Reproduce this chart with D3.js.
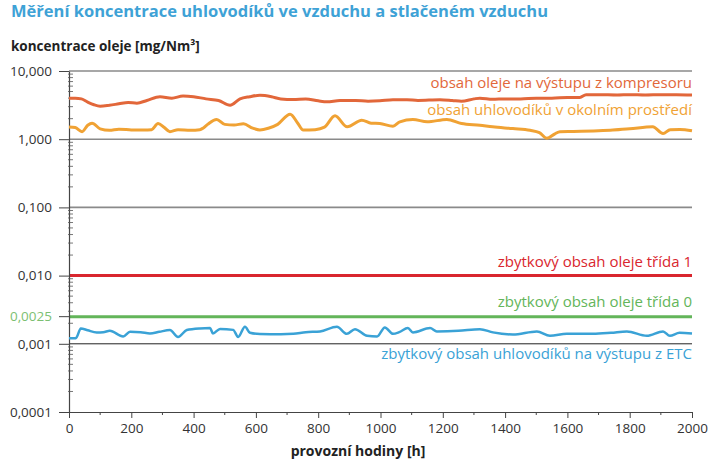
<!DOCTYPE html>
<html>
<head>
<meta charset="utf-8">
<script src="https://cdn.jsdelivr.net/npm/d3@7"></script>
<style>
  body { margin: 0; background: #fff; }
  svg text { font-family: "Open Sans", "Noto Sans", sans-serif; }
</style>
</head>
<body>
<svg id="chart" width="727" height="465"></svg>
<script>
// hours / values (mg/Nm3)
const compressorHours = [0,20,40,60,80,100,130,160,190,218,250,292,330,366,400,440,480,517,549,580,613,650,680,720,760,800,828,870,920,960,998,1040,1085,1120,1191,1230,1260,1300,1319,1360,1400,1450,1500,1550,1600,1640,1660,1700,1760,1800,1850,1900,1950,2000]
const compressorValues = [4.0,4.0,3.9,3.5,3.2,3.05,3.15,3.3,3.45,3.38,3.7,4.2,4.0,4.3,4.2,3.9,3.7,3.15,3.9,4.2,4.4,4.2,3.9,3.83,3.9,3.65,3.53,3.7,3.7,3.6,3.65,3.8,3.8,3.7,3.8,3.7,3.6,3.9,4.0,3.85,3.9,3.9,4.0,4.0,4.1,4.1,4.5,4.5,4.45,4.5,4.45,4.5,4.5,4.45]

const ambientHours = [0,20,42,60,74,100,130,160,200,240,265,286,305,324,350,390,420,430,445,474,500,530,560,590,613,640,670,710,735,752,790,820,854,893,940,970,998,1040,1062,1104,1150,1213,1260,1319,1360,1425,1480,1510,1534,1560,1576,1620,1700,1746,1800,1874,1907,1930,1961,2000]
const ambientValues = [1.51,1.48,1.29,1.6,1.72,1.42,1.35,1.4,1.37,1.36,1.38,1.7,1.5,1.29,1.38,1.35,1.38,1.45,1.65,1.95,1.65,1.62,1.68,1.45,1.37,1.45,1.65,2.33,1.7,1.36,1.38,1.5,2.2,1.52,1.9,1.72,1.7,1.55,1.8,1.95,1.8,1.95,1.7,1.6,1.52,1.43,1.35,1.25,1.03,1.2,1.29,1.3,1.33,1.36,1.42,1.52,1.21,1.38,1.39,1.33]

const etcHours = [0,22,38,60,89,110,131,174,196,230,260,290,324,350,378,420,453,462,485,527,543,565,581,613,680,720,760,806,860,892,918,957,989,1014,1040,1060,1088,1104,1159,1181,1250,1319,1361,1425,1502,1544,1598,1682,1740,1791,1855,1907,1929,1960,2000]
const etcValues = [0.00121,0.00121,0.00168,0.00158,0.00147,0.00148,0.00155,0.00128,0.0015,0.00148,0.00142,0.0015,0.00159,0.00126,0.00159,0.00168,0.0017,0.00142,0.00165,0.0016,0.00126,0.00178,0.00145,0.00139,0.00138,0.0014,0.00148,0.00152,0.00178,0.0014,0.00164,0.00131,0.00128,0.00174,0.0014,0.00148,0.0017,0.00147,0.0017,0.00152,0.00155,0.00164,0.00147,0.00137,0.00152,0.00131,0.0014,0.0014,0.00145,0.00152,0.00131,0.00152,0.00131,0.00145,0.00142]

const class1Limit = 0.01
const class0Limit = 0.0025

const yTickValues = [10, 1, 0.1, 0.01, 0.001, 0.0001]
const yTickLabels = ['10,000', '1,000', '0,100', '0,010', '0,001', '0,0001']
const xTickValues = [0,200,400,600,800,1000,1200,1400,1600,1800,2000]

const titleText = 'Měření koncentrace uhlovodíků ve vzduchu a stlačeném vzduchu'
const yTitle = 'koncentrace oleje [mg/Nm³]'
const xTitle = 'provozní hodiny [h]'

const colorCompressor = '#e2673a'
const colorAmbient = '#f0a234'
const colorClass1 = '#d9262e'
const colorClass0 = '#63b55a'
const colorEtc = '#3aa2d6'

const svg = d3.select('#chart')

const x = d3.scaleLinear().domain([0, 2000]).range([69, 692])
const y = d3.scaleLog().domain([0.0001, 10]).range([412, 71])

// title texts
svg.append('text')
    .attr('x', 11).attr('y', 17)
    .style('font-size', '16.5px').style('font-weight', 'bold')
    .style('fill', '#3ea2d6')
    .text(titleText)

svg.append('text')
    .attr('x', 11).attr('y', 51)
    .style('font-size', '13.5px').style('font-weight', 'bold')
    .style('fill', '#222')
    .text(yTitle)

// gridlines at decades
const gridValues = [10, 1, 0.1]
svg.selectAll('.grid')
    .data(gridValues)
    .enter()
    .append('line')
    .attr('class', 'grid')
    .attr('x1', x(0)).attr('x2', x(2000))
    .attr('y1', d=>y(d)).attr('y2', d=>y(d))
    .style('stroke', '#8a8a8a')
    .style('stroke-width', 1.6)

svg.append('line')
    .attr('x1', x(0)).attr('x2', x(2000))
    .attr('y1', y(0.001)).attr('y2', y(0.001))
    .style('stroke', '#222')
    .style('stroke-width', 1)

// limits
svg.append('line')
    .attr('x1', x(0)).attr('x2', x(2000))
    .attr('y1', y(class1Limit)).attr('y2', y(class1Limit))
    .style('stroke', colorClass1)
    .style('stroke-width', 3)

svg.append('line')
    .attr('x1', x(0)).attr('x2', x(2000))
    .attr('y1', y(class0Limit)).attr('y2', y(class0Limit))
    .style('stroke', colorClass0)
    .style('stroke-width', 3)

// y axis
const yAxis = d3.axisLeft(y)
    .tickValues(yTickValues)
    .tickFormat((d, i)=>yTickLabels[i])
    .tickSize(10)
    .tickSizeOuter(0)
    .tickPadding(7)

const yAxisG = svg.append('g')
    .attr('transform', 'translate(' + x(0) + ',0)')
    .call(yAxis)
yAxisG.select('.domain').style('stroke', '#444').style('stroke-width', 1.2)
yAxisG.selectAll('.tick line').style('stroke', '#444')
yAxisG.selectAll('.tick text')
    .style('font-size', '13.5px')
    .style('fill', '#333')
    .style('font-family', '"Open Sans", sans-serif')

// minor log ticks
let minorValues = []
for (let k = -4; k < 1; k++){
    for (let m = 2; m < 10; m++){
        minorValues.push(m * Math.pow(10, k))
    }
}
svg.selectAll('.minor')
    .data(minorValues)
    .enter()
    .append('line')
    .attr('class', 'minor')
    .attr('x1', x(0) - 1).attr('x2', x(0) + 4)
    .attr('y1', d=>y(d)).attr('y2', d=>y(d))
    .style('stroke', '#555')
    .style('stroke-width', 0.8)

// 0,0025 label
svg.append('text')
    .attr('x', x(0) - 17).attr('y', y(class0Limit))
    .attr('dy', '0.32em')
    .attr('text-anchor', 'end')
    .style('font-size', '13.5px')
    .style('fill', '#7cbf72')
    .text('0,0025')
svg.append('line')
    .attr('x1', x(0) - 10).attr('x2', x(0))
    .attr('y1', y(class0Limit)).attr('y2', y(class0Limit))
    .style('stroke', '#444')

// x axis
const xAxis = d3.axisBottom(x)
    .tickValues(xTickValues)
    .tickFormat(d3.format('d'))
    .tickSize(6)
    .tickSizeOuter(0)
    .tickPadding(5)

const xAxisG = svg.append('g')
    .attr('transform', 'translate(0,' + y(0.0001) + ')')
    .call(xAxis)
xAxisG.select('.domain').style('stroke', '#444').style('stroke-width', 1.2)
xAxisG.selectAll('.tick line').style('stroke', '#444')
xAxisG.selectAll('.tick text')
    .style('font-size', '13.5px')
    .style('fill', '#333')
    .style('font-family', '"Open Sans", sans-serif')

svg.selectAll('.xminor')
    .data(d3.range(100, 2000, 200))
    .enter()
    .append('line')
    .attr('class', 'xminor')
    .attr('x1', d=>x(d)).attr('x2', d=>x(d))
    .attr('y1', y(0.0001)).attr('y2', y(0.0001) + 3)
    .style('stroke', '#444')

svg.append('text')
    .attr('x', 358).attr('y', 456)
    .attr('text-anchor', 'middle')
    .style('font-size', '14px').style('font-weight', 'bold')
    .style('fill', '#222')
    .text(xTitle)

// series
function drawSeries(hours, values, color, width){
    const line = d3.line()
        .x((d, i)=>x(hours[i]))
        .y(d=>y(d))
        .curve(d3.curveMonotoneX)
    svg.append('path')
        .datum(values)
        .attr('d', line)
        .style('fill', 'none')
        .style('stroke', color)
        .style('stroke-width', width)
        .style('stroke-linejoin', 'round')
}

drawSeries(compressorHours, compressorValues, colorCompressor, 3)
drawSeries(ambientHours, ambientValues, colorAmbient, 3)
drawSeries(etcHours, etcValues, colorEtc, 2.5)

// series labels
const labels = [
    {text: 'obsah oleje na výstupu z kompresoru', y: 88, color: colorCompressor},
    {text: 'obsah uhlovodíků v okolním prostředí', y: 115, color: colorAmbient},
    {text: 'zbytkový obsah oleje třída 1', y: 267, color: colorClass1},
    {text: 'zbytkový obsah oleje třída 0', y: 307, color: colorClass0},
    {text: 'zbytkový obsah uhlovodíků na výstupu z ETC', y: 359, color: colorEtc}
]
svg.selectAll('.series-label')
    .data(labels)
    .enter()
    .append('text')
    .attr('class', 'series-label')
    .attr('x', x(2000))
    .attr('y', d=>d.y)
    .attr('text-anchor', 'end')
    .style('font-size', '15px')
    .style('fill', d=>d.color)
    .text(d=>d.text)
</script>
</body>
</html>
